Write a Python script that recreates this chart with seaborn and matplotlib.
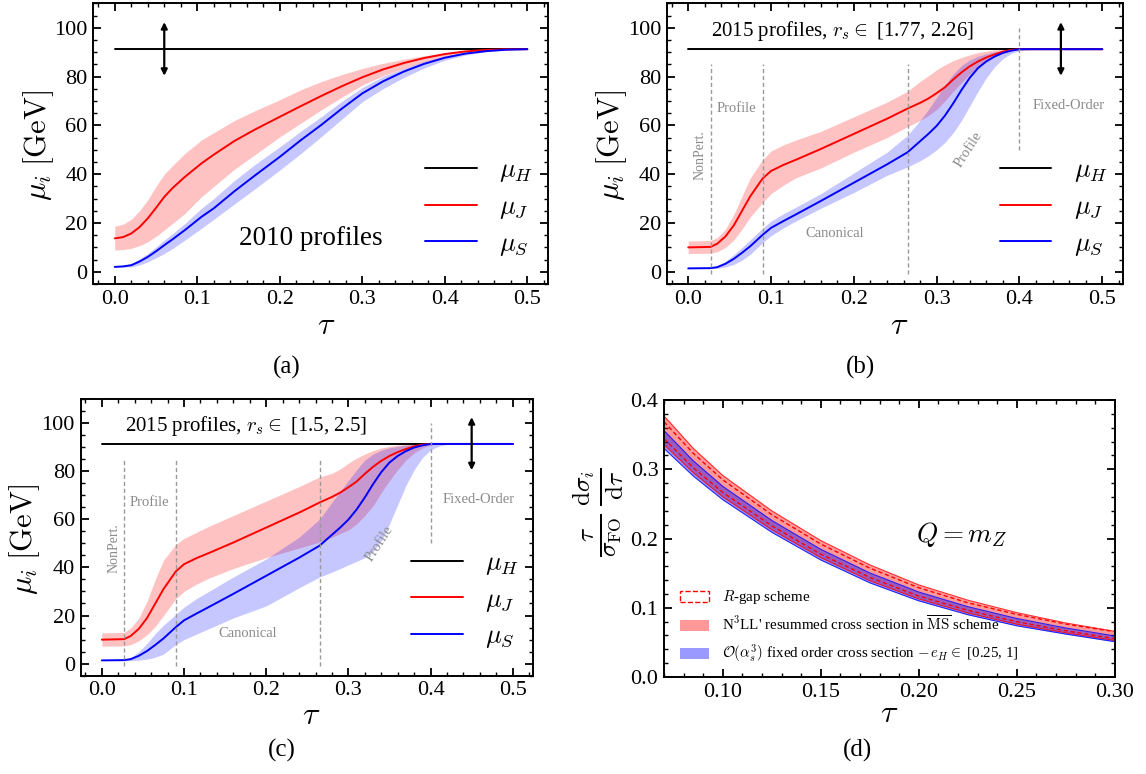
import numpy as np
import pandas as pd
import matplotlib
matplotlib.use("Agg")
import matplotlib.pyplot as plt
import seaborn as sns
from matplotlib.ticker import MultipleLocator, FormatStrFormatter
from matplotlib.patches import Patch

# ---------------- data ----------------
MU_H = 91.19

# panel (a): 2010 profiles
tau_10 = [0, 0.01, 0.02, 0.03, 0.04, 0.05, 0.06, 0.07, 0.085, 0.105, 0.12, 0.145, 0.17,
          0.2, 0.225, 0.25, 0.275, 0.3, 0.325, 0.35, 0.375, 0.4, 0.425, 0.45, 0.475, 0.5]
muJ_10 = [13.7, 14.2, 15.7, 18.3, 21.9, 26.2, 30.7, 34.3, 38.9, 44.4, 48.0, 53.6, 58.3,
          63.5, 67.8, 72.0, 76.0, 79.7, 82.9, 85.5, 87.6, 89.2, 90.3, 90.9, 91.15, 91.19]
muJ_10_up = [18.7, 19.5, 21.5, 25.0, 29.5, 35.0, 40.0, 43.5, 48.5, 54.0, 57.0, 62.0, 66.0,
             70.5, 74.5, 77.9, 80.8, 83.3, 85.4, 87.1, 88.5, 89.6, 90.4, 90.9, 91.15, 91.19]
muJ_10_lo = [8.9, 9.1, 9.6, 10.7, 12.3, 14.5, 17.1, 19.8, 23.9, 30.7, 35.0, 42.0, 48.0,
             55.3, 60.8, 66.3, 71.5, 76.5, 80.3, 83.3, 86.0, 88.1, 89.6, 90.4, 91.0, 91.19]
muS_10 = [2.0, 2.2, 2.7, 4.2, 6.1, 8.4, 10.9, 13.3, 17.1, 22.5, 26.0, 33.0, 39.5,
          47.1, 53.8, 60.1, 66.8, 73.1, 78.0, 82.0, 85.2, 87.7, 89.4, 90.4, 91.0, 91.19]
muS_10_up = [2.0, 2.4, 3.4, 5.3, 7.5, 10.2, 13.0, 15.6, 19.8, 26.0, 30.0, 37.4, 44.0,
             51.2, 57.5, 63.5, 69.8, 75.5, 80.0, 83.3, 86.2, 88.4, 89.8, 90.6, 91.05, 91.19]
muS_10_lo = [2.0, 2.0, 2.0, 2.8, 4.1, 5.7, 7.5, 9.5, 13.0, 17.8, 21.5, 27.8, 34.0,
             41.7, 48.3, 55.3, 62.5, 69.7, 75.0, 79.6, 83.5, 86.7, 88.8, 90.2, 90.9, 91.19]

# panels (b), (c): 2015 profiles
tau_15 = [0, 0.027, 0.035, 0.045, 0.055, 0.065, 0.075, 0.09, 0.10, 0.115, 0.13, 0.16, 0.20,
          0.24, 0.265, 0.28, 0.29, 0.30, 0.31, 0.32, 0.33, 0.34, 0.35, 0.36, 0.37, 0.38,
          0.39, 0.40, 0.41, 0.42, 0.43, 0.50]
muJ_15 = [10.0, 10.2, 11.5, 14.5, 19.0, 25.0, 31.0, 38.3, 41.3, 43.8, 45.9, 50.3, 56.5,
          62.7, 66.9, 69.2, 71.0, 73.2, 75.6, 78.8, 81.7, 84.2, 86.2, 87.8, 89.1, 90.2,
          90.9, 91.19, 91.19, 91.19, 91.19, 91.19]
muS_15 = [1.4, 1.5, 1.9, 3.3, 5.3, 7.8, 10.5, 15.2, 18.0, 20.8, 23.5, 29.0, 36.5,
          44.0, 49.0, 53.5, 56.5, 59.8, 64.0, 69.0, 74.5, 79.5, 83.5, 86.2, 88.2, 89.7,
          90.6, 91.19, 91.19, 91.19, 91.19, 91.19]
# (b) r_s in [1.77, 2.26]
muJ_b_up = [12.6, 12.8, 14.0, 17.5, 23.5, 31.0, 38.5, 46.0, 49.5, 52.0, 54.0, 57.5, 63.5,
            69.5, 74.0, 78.0, 80.3, 82.8, 84.8, 86.5, 87.8, 88.9, 89.8, 90.4, 90.9, 91.1,
            91.19, 91.19, 91.19, 91.19, 91.19, 91.19]
muJ_b_lo = [7.5, 7.6, 8.2, 10.0, 13.0, 17.5, 22.5, 28.5, 32.0, 35.5, 38.5, 42.5, 49.0,
            55.0, 59.5, 62.0, 64.0, 66.5, 70.0, 74.0, 77.5, 81.0, 84.0, 86.5, 88.3, 89.6,
            90.5, 91.19, 91.19, 91.19, 91.19, 91.19]
muS_b_up = [1.5, 1.6, 2.3, 4.3, 7.0, 10.0, 13.2, 18.0, 20.8, 23.8, 26.5, 32.0, 40.5,
            49.0, 56.0, 62.0, 66.5, 71.5, 76.5, 81.0, 84.5, 86.8, 88.3, 89.3, 90.1, 90.7,
            91.0, 91.19, 91.19, 91.19, 91.19, 91.19]
muS_b_lo = [1.4, 1.4, 1.4, 2.0, 3.0, 4.8, 7.2, 12.0, 14.8, 18.0, 20.8, 26.0, 32.5,
            39.5, 43.0, 45.5, 47.5, 50.0, 53.0, 57.0, 62.0, 68.0, 74.0, 79.5, 84.0, 87.3,
            89.5, 90.6, 91.0, 91.19, 91.19, 91.19]
# (c) r_s in [1.5, 2.5]
muJ_c_up = [12.8, 13.0, 14.8, 19.0, 26.0, 35.0, 43.0, 49.5, 52.0, 54.5, 57.0, 61.5, 67.5,
            73.5, 77.5, 79.0, 80.8, 83.2, 85.3, 87.0, 88.4, 89.5, 90.2, 90.7, 91.0, 91.19,
            91.19, 91.19, 91.19, 91.19, 91.19, 91.19]
muJ_c_lo = [7.3, 7.4, 7.9, 9.5, 12.0, 15.5, 20.0, 27.0, 30.0, 33.0, 35.5, 39.5, 44.0,
            48.0, 50.5, 52.5, 54.0, 55.5, 58.0, 61.5, 65.5, 71.0, 76.0, 80.5, 84.5, 87.5,
            89.5, 90.8, 91.19, 91.19, 91.19, 91.19]
muS_c_up = [1.4, 1.5, 2.5, 5.0, 8.5, 12.5, 16.0, 20.5, 23.5, 27.0, 30.0, 36.0, 43.5,
            52.5, 60.0, 67.0, 71.5, 76.0, 80.5, 84.5, 87.0, 88.6, 89.6, 90.2, 90.7, 91.0,
            91.19, 91.19, 91.19, 91.19, 91.19, 91.19]
muS_c_lo = [1.3, 1.3, 1.3, 1.5, 1.9, 2.7, 4.0, 8.0, 10.0, 12.3, 14.5, 19.0, 24.0,
            31.5, 36.0, 38.0, 39.5, 41.0, 42.5, 44.0, 46.5, 51.0, 58.0, 66.0, 74.0, 80.5,
            85.5, 88.7, 90.3, 91.0, 91.19, 91.19]

region_bounds = [0.027, 0.09, 0.265]
fixed_order_bound = 0.40

# panel (d): cross sections
tau_d = [0.07, 0.085, 0.10, 0.125, 0.15, 0.175, 0.20, 0.225, 0.25, 0.275, 0.30]
ms_up = [0.377, 0.330, 0.291, 0.240, 0.197, 0.162, 0.133, 0.111, 0.093, 0.078, 0.066]
ms_lo = [0.3356, 0.2948, 0.2602, 0.2127, 0.1724, 0.1391, 0.1128, 0.0925, 0.0763, 0.0639, 0.0528]
fo_up = [0.3559, 0.3120, 0.2753, 0.2261, 0.1844, 0.1503, 0.1227, 0.1016, 0.0845, 0.0708, 0.0593]
fo_lo = [0.330, 0.290, 0.256, 0.209, 0.169, 0.136, 0.110, 0.090, 0.074, 0.062, 0.051]
rgap_up = [0.3685, 0.3228, 0.2847, 0.2344, 0.1920, 0.1573, 0.1289, 0.1072, 0.0905, 0.0765, 0.0655]
rgap_lo = [0.3441, 0.3020, 0.2665, 0.2183, 0.1774, 0.1438, 0.1169, 0.0963, 0.0797, 0.0668, 0.0555]

# ---------------- style ----------------
sns.set_theme(style="ticks")
plt.rcParams.update({
    "font.family": ["Liberation Serif", "DejaVu Serif"],
    "mathtext.fontset": "cm",
    "text.color": "black",
    "axes.labelcolor": "black",
    "xtick.color": "black",
    "ytick.color": "black",
    "axes.edgecolor": "black",
    "axes.linewidth": 1.4,
})

fig = plt.figure(figsize=(11.46, 7.74), dpi=100)
W, H = 1146.0, 774.0


def add_axes(l, r, t, b):
    return fig.add_axes([l / W, 1 - b / H, (r - l) / W, (b - t) / H])


def style_ax(ax, xmaj, xmin, ymaj, ymin, xfmt, yfmt):
    ax.xaxis.set_major_locator(MultipleLocator(xmaj))
    ax.xaxis.set_minor_locator(MultipleLocator(xmin))
    ax.yaxis.set_major_locator(MultipleLocator(ymaj))
    ax.yaxis.set_minor_locator(MultipleLocator(ymin))
    ax.xaxis.set_major_formatter(FormatStrFormatter(xfmt))
    ax.yaxis.set_major_formatter(FormatStrFormatter(yfmt))
    ax.tick_params(which="both", direction="in", top=True, right=True, labelsize=16)
    ax.tick_params(which="major", length=6, width=1.3, pad=4)
    ax.tick_params(which="minor", length=3, width=1.0)
    for s in ax.spines.values():
        s.set_linewidth(1.4)
        s.set_color("black")


def place_labels(ax, xlab, xc, yc_x, ylab, xc_y, yc_y, xsize, ysize):
    ax.set_xlabel(xlab, fontsize=xsize)
    ax.xaxis.set_label_coords(xc / W, 1 - yc_x / H, transform=fig.transFigure)
    ax.xaxis.label.set_va("center")
    ax.set_ylabel(ylab, fontsize=ysize)
    ax.yaxis.set_label_coords(xc_y / W, 1 - yc_y / H, transform=fig.transFigure)
    ax.yaxis.label.set_va("center")


GRAY = "#8a8a8a"


def profile_panel(ax, tau, mJ, jlo, jup, mS, slo, sup, arrow_x, regions=False,
                  txt=None, canon_y=15.7):
    tau = np.asarray(tau)
    ax.fill_between(tau, jlo, jup, color="red", alpha=0.24, lw=0)
    ax.fill_between(tau, slo, sup, color="blue", alpha=0.22, lw=0)
    df = pd.DataFrame({"tau": tau, "H": np.full(len(tau), MU_H), "J": mJ, "S": mS})
    sns.lineplot(data=df, x="tau", y="H", ax=ax, color="black", lw=1.4, label=r"$\mu_H$")
    sns.lineplot(data=df, x="tau", y="J", ax=ax, color="red", lw=1.4, label=r"$\mu_J$")
    sns.lineplot(data=df, x="tau", y="S", ax=ax, color="blue", lw=1.4, label=r"$\mu_S$")
    ax.annotate("", xy=(arrow_x, 80.3), xytext=(arrow_x, 102.3),
                arrowprops=dict(arrowstyle="<|-|>", color="black", lw=1.6,
                                mutation_scale=9, shrinkA=0, shrinkB=0))
    if regions:
        for xb in region_bounds:
            ax.plot([xb, xb], [-1, 85], color="#9a9a9a", lw=1.0, dashes=(3, 2))
        ax.plot([fixed_order_bound] * 2, [50, 100], color="#9a9a9a", lw=1.0,
                dashes=(3, 2))
        ax.text(0.0145, 48, "NonPert.", rotation=90, color=GRAY, fontsize=10,
                ha="center", va="center")
        ax.text(0.058, 67, "Profile", color=GRAY, fontsize=10.5, ha="center", va="center")
        ax.text(0.177, canon_y, "Canonical", color=GRAY, fontsize=10.5, ha="center",
                va="center")
        ax.text(0.338, 50, "Profile", rotation=57, color=GRAY, fontsize=10.5,
                ha="center", va="center")
        ax.text(0.459, 68, "Fixed-Order", color=GRAY, fontsize=10.5, ha="center",
                va="center")
    if txt is not None:
        ax.text(0.028, 98.6, txt, fontsize=15, ha="left", va="center")
    ax.set_xlim(-0.026, 0.525)
    ax.set_ylim(-5, 110)
    style_ax(ax, 0.1, 0.02, 20, 5, "%.1f", "%d")
    ax.legend(loc="center left", bbox_to_anchor=(0.73, 0.27), frameon=False,
              fontsize=19, handlelength=1.95, handletextpad=0.85, labelspacing=0.42,
              borderpad=0.0, borderaxespad=0.0)


# (a)
ax_a = add_axes(93.3, 548, 3.3, 284)
profile_panel(ax_a, tau_10, muJ_10, muJ_10_lo, muJ_10_up, muS_10, muS_10_lo, muS_10_up,
              arrow_x=0.06)
ax_a.text(0.238, 13.8, "2010 profiles", fontsize=19.5, ha="center", va="center")
place_labels(ax_a, r"$\tau$", 326, 327, r"$\mu_i\;[\mathrm{GeV}]$", 39, 146, 23, 22)

# (b)
ax_b = add_axes(666.7, 1123, 3.3, 284)
profile_panel(ax_b, tau_15, muJ_15, muJ_b_lo, muJ_b_up, muS_15, muS_b_lo, muS_b_up,
              arrow_x=0.45, regions=True,
              txt=r"2015 profiles, $r_s \in$ [1.77, 2.26]", canon_y=15.7)
place_labels(ax_b, r"$\tau$", 899, 327, r"$\mu_i\;[\mathrm{GeV}]$", 612, 146, 23, 22)

# (c)
ax_c = add_axes(80.5, 533.3, 398.6, 675.8)
profile_panel(ax_c, tau_15, muJ_15, muJ_c_lo, muJ_c_up, muS_15, muS_c_lo, muS_c_up,
              arrow_x=0.45, regions=True,
              txt=r"2015 profiles, $r_s \in$ [1.5, 2.5]", canon_y=12.5)
place_labels(ax_c, r"$\tau$", 311, 717, r"$\mu_i\;[\mathrm{GeV}]$", 25, 540, 23, 22)

# (d)
ax_d = add_axes(664, 1114.7, 400, 677)
td = np.asarray(tau_d)
ax_d.fill_between(td, ms_lo, ms_up, color="red", alpha=0.4, lw=0)
ax_d.fill_between(td, fo_lo, fo_up, color="blue", alpha=0.4, lw=0)
dfd = pd.DataFrame({"tau": td, "ms_up": ms_up, "ms_lo": ms_lo, "fo_up": fo_up,
                    "fo_lo": fo_lo, "rg_up": rgap_up, "rg_lo": rgap_lo})
for col, c in [("ms_up", "red"), ("ms_lo", "red"), ("fo_up", "blue"), ("fo_lo", "blue")]:
    sns.lineplot(data=dfd, x="tau", y=col, ax=ax_d, color=c, lw=0.8, alpha=0.8)
for col in ["rg_up", "rg_lo"]:
    sns.lineplot(data=dfd, x="tau", y=col, ax=ax_d, color="red", lw=1.0,
                 dashes=(3, 2))
ax_d.set_xlim(0.07, 0.30)
ax_d.set_ylim(0.0, 0.4)
style_ax(ax_d, 0.05, 0.01, 0.1, 0.02, "%.2f", "%.1f")
place_labels(ax_d, r"$\tau$", 889, 715,
             r"$\frac{\tau}{\sigma_{\mathrm{FO}}}\,\frac{\mathrm{d}\sigma_i}{\mathrm{d}\tau}$",
             598, 512, 23, 26)
ax_d.text(0.222, 0.206, r"$Q = m_Z$", fontsize=19.5, ha="center", va="center")
handles = [Patch(facecolor="none", edgecolor="red", linestyle="--", lw=1.0),
           Patch(facecolor="red", alpha=0.4, edgecolor="none"),
           Patch(facecolor="blue", alpha=0.4, edgecolor="none")]
labels = [r"$R$-gap scheme",
          r"N$^3$LL' resummed cross section in $\overline{\mathrm{MS}}$ scheme",
          r"$\mathcal{O}(\alpha_s^3)$ fixed order cross section $-\, e_H \in$ [0.25, 1]"]
ax_d.legend(handles, labels, loc="center left", bbox_to_anchor=(0.0355, 0.182),
            frameon=False, fontsize=10.8, handlelength=1.95, handleheight=0.75,
            labelspacing=0.58, handletextpad=0.85, borderpad=0.0, borderaxespad=0.0)

# panel tags
for lab, x, y in [("(a)", 287, 367), ("(b)", 860, 367), ("(c)", 282, 750), ("(d)", 858, 750)]:
    fig.text(x / W, 1 - y / H, lab, fontsize=18, ha="center", va="center")

fig.savefig("out.png", dpi=100)
